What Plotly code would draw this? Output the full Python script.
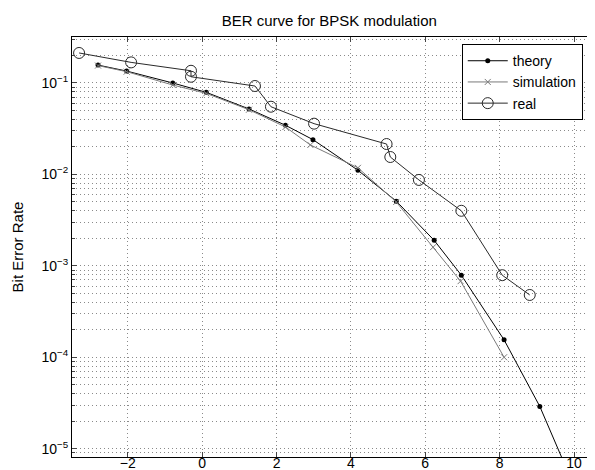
import plotly.graph_objects as go

theory_x = [-2.80, -2.03, -0.79, 0.11, 1.26, 2.24, 2.98, 4.19, 5.22, 6.24, 6.97, 8.12, 9.08, 10.0]
theory_y = [0.157, 0.135, 0.100, 0.079, 0.052, 0.0345, 0.024, 0.0111, 0.0051, 0.0019, 0.00079, 0.000155, 2.9e-5, 3.9e-6]

sim_x = [-2.80, -2.03, -0.79, 0.11, 1.26, 2.24, 2.91, 4.19, 5.22, 6.21, 6.95, 8.12]
sim_y = [0.155, 0.133, 0.095, 0.077, 0.051, 0.033, 0.021, 0.0118, 0.0050, 0.0016, 0.00068, 0.0001]

real_x = [-3.31, -1.91, -0.30, -0.30, 1.42, 1.85, 3.01, 4.96, 5.06, 5.83, 6.97, 8.07, 8.81]
real_y = [0.213, 0.168, 0.136, 0.117, 0.0927, 0.055, 0.0359, 0.0215, 0.0155, 0.0087, 0.0040, 0.00079, 0.00048]

x_ticks = [-2, 0, 2, 4, 6, 8, 10]
y_ticks = [1e-5, 1e-4, 1e-3, 1e-2, 1e-1]
y_ticktext = ["10<sup>\u22125</sup>", "10<sup>\u22124</sup>", "10<sup>\u22123</sup>",
              "10<sup>\u22122</sup>", "10<sup>\u22121</sup>"]

FONT = "Liberation Sans, Arial, Helvetica, sans-serif"

fig = go.Figure()
fig.add_trace(go.Scatter(x=theory_x, y=theory_y, mode="lines+markers", name="theory",
                         line=dict(color="black", width=1),
                         marker=dict(symbol="circle", size=5, color="black")))
fig.add_trace(go.Scatter(x=sim_x, y=sim_y, mode="lines+markers", name="simulation",
                         line=dict(color="#7a7a7a", width=1),
                         marker=dict(symbol="x-thin", size=6, color="#7a7a7a",
                                     line=dict(color="#7a7a7a", width=1))))
fig.add_trace(go.Scatter(x=real_x, y=real_y, mode="lines+markers", name="real",
                         line=dict(color="#2a2a2a", width=1),
                         marker=dict(symbol="circle-open", size=11, color="#2a2a2a",
                                     line=dict(width=1))))

grid_col = "#8a8a8a"
gdash = "1px,3px"
fig.update_layout(
    width=595, height=470,
    margin=dict(l=64, r=0, t=29, b=21, autoexpand=False),
    paper_bgcolor="white", plot_bgcolor="white",
    font=dict(family=FONT, size=14, color="black"),
    title=dict(text="BER curve for BPSK modulation", x=0.54, xanchor="center",
               y=0.972, yanchor="middle", font=dict(size=15)),
    showlegend=True,
    legend=dict(x=0.734, xanchor="left", y=0.983, yanchor="top",
                bgcolor="white", bordercolor="black", borderwidth=1,
                font=dict(size=14), itemwidth=40, tracegroupgap=0),
)
fig.update_xaxes(range=[-3.5, 10.78], tickvals=x_ticks, ticks="inside", ticklen=5,
                 showline=True, linecolor="black", linewidth=1, mirror="allticks",
                 showgrid=True, gridcolor=grid_col, griddash=gdash, gridwidth=1,
                 zeroline=False, tickfont=dict(size=14), ticklabelstandoff=-7,
                 automargin=False)
fig.update_yaxes(type="log", range=[-5.091, -0.497], tickvals=y_ticks, ticktext=y_ticktext,
                 ticks="inside", ticklen=5,
                 showline=True, linecolor="black", linewidth=1, mirror="allticks",
                 showgrid=True, gridcolor=grid_col, griddash=gdash, gridwidth=1,
                 minor=dict(dtick="D1", ticks="inside", ticklen=3, showgrid=True,
                            gridcolor=grid_col, griddash=gdash, gridwidth=1),
                 title=dict(text="Bit Error Rate", font=dict(size=15), standoff=14),
                 zeroline=False, tickfont=dict(size=14), automargin=False)

fig.write_html("out.html")
